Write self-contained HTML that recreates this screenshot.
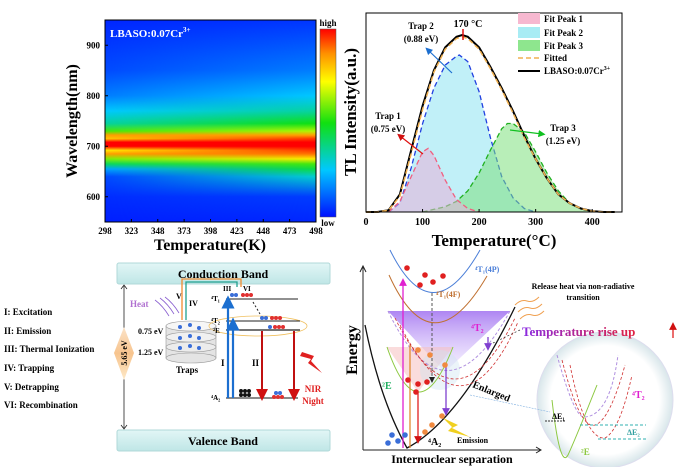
<!DOCTYPE html>
<html><head><meta charset="utf-8">
<style>
html,body{margin:0;padding:0;background:#fff;}
svg{display:block;font-family:"Liberation Serif",serif;font-weight:bold;}
</style></head>
<body>
<svg id="fig" width="685" height="467" viewBox="0 0 685 467" xmlns="http://www.w3.org/2000/svg">
<defs>
  <linearGradient id="cbar" x1="0" y1="1" x2="0" y2="0">
    <stop offset="0" stop-color="#0010ff"/><stop offset="0.25" stop-color="#00c8ff"/>
    <stop offset="0.5" stop-color="#10e010"/><stop offset="0.72" stop-color="#ffff00"/>
    <stop offset="0.87" stop-color="#ff9000"/><stop offset="1" stop-color="#ff0000"/>
  </linearGradient>
  <linearGradient id="hmL" x1="0" y1="0" x2="0" y2="1"></linearGradient>
  <linearGradient id="hmR" x1="0" y1="0" x2="0" y2="1"></linearGradient>
  <linearGradient id="fadeH" x1="0" y1="0" x2="1" y2="0"><stop offset="0" stop-color="#fff" stop-opacity="0"/><stop offset="1" stop-color="#fff" stop-opacity="1"/></linearGradient>
  <mask id="hmMask"><rect x="105" y="20" width="211" height="202" fill="url(#fadeH)"/></mask>
  <linearGradient id="band" x1="0" y1="0" x2="0" y2="1"><stop offset="0" stop-color="#e2f6f6"/><stop offset="1" stop-color="#bfe6e6"/></linearGradient>
  <linearGradient id="diam" x1="0" y1="0" x2="0" y2="1"><stop offset="0" stop-color="#fbe3c8"/><stop offset="0.5" stop-color="#f7c48e"/><stop offset="1" stop-color="#fde9c8"/></linearGradient>
  <linearGradient id="tempTxt" x1="0" y1="0" x2="1" y2="0"><stop offset="0" stop-color="#8a2be2"/><stop offset="1" stop-color="#e02040"/></linearGradient>
  <linearGradient id="purp" x1="0" y1="0" x2="0" y2="1"><stop offset="0" stop-color="#a070f0" stop-opacity="0.85"/><stop offset="1" stop-color="#e8dcff" stop-opacity="0.4"/></linearGradient>
  <radialGradient id="bubble" cx="0.5" cy="0.5" r="0.5"><stop offset="0.8" stop-color="#ffffff"/><stop offset="1" stop-color="#d8e6ea"/></radialGradient>
  <marker id="ab" markerWidth="6" markerHeight="6" refX="3" refY="3" orient="auto"><path d="M0,0L6,3L0,6z" fill="#1c6fd0"/></marker>
  <marker id="ar" markerWidth="6" markerHeight="6" refX="3" refY="3" orient="auto"><path d="M0,0L6,3L0,6z" fill="#d01010"/></marker>
  <marker id="ag" markerWidth="6" markerHeight="6" refX="3" refY="3" orient="auto"><path d="M0,0L6,3L0,6z" fill="#10c020"/></marker>
  <marker id="ak" markerWidth="6" markerHeight="6" refX="3" refY="3" orient="auto"><path d="M0,0L6,3L0,6z" fill="#222"/></marker>
  <marker id="am" markerWidth="6" markerHeight="6" refX="3" refY="3" orient="auto"><path d="M0,0L6,3L0,6z" fill="#e020d0"/></marker>
  <marker id="av" markerWidth="6" markerHeight="6" refX="3" refY="3" orient="auto"><path d="M0,0L6,3L0,6z" fill="#8040d0"/></marker>
</defs>

<!-- ===== Heatmap panel ===== -->
<g id="heatmap">
  <rect x="105" y="20" width="211" height="202" fill="url(#hmL)"/>
  <rect x="105" y="20" width="211" height="202" fill="url(#hmR)" mask="url(#hmMask)"/>
  <rect x="105" y="20" width="211" height="202" fill="none" stroke="#000" stroke-width="1"/>
  <text x="110" y="37" fill="#fff" font-size="11">LBASO:0.07Cr<tspan font-size="7" dy="-5">3+</tspan></text>
  <rect x="320" y="29" width="16" height="188" fill="url(#cbar)" stroke="#555" stroke-width="0.5"/>
  <text x="328" y="26" font-size="9" text-anchor="middle">high</text>
  <text x="328" y="226" font-size="9" text-anchor="middle">low</text>
  <text transform="translate(77,121) rotate(-90)" font-size="16" text-anchor="middle">Wavelength(nm)</text>
  <text x="210" y="250" font-size="16" text-anchor="middle">Temperature(K)</text>
  <g id="hmTicks"></g>
</g>

<!-- ===== TL panel ===== -->
<g id="tl">
  <g id="tlMarks"></g>
  <rect x="366" y="13" width="256" height="199" fill="none" stroke="#000" stroke-width="1"/>
  <g id="tlTicks"></g>
  <text transform="translate(356,112) rotate(-90)" font-size="17" text-anchor="middle">TL Intensity(a.u.)</text>
  <text x="494" y="246" font-size="17" text-anchor="middle">Temperature(°C)</text>
  <text x="468" y="27" font-size="10" text-anchor="middle">170 °C</text>
  <line x1="463" y1="29" x2="463" y2="40" stroke="#e01010" stroke-width="1.5"/>
  <text x="421" y="29" font-size="9" text-anchor="middle">Trap 2</text>
  <text x="421" y="42" font-size="9" text-anchor="middle">(0.88 eV)</text>
  <line x1="452" y1="73" x2="428" y2="50" stroke="#1c6fd0" stroke-width="1.2" marker-end="url(#ab)"/>
  <text x="388" y="119" font-size="9" text-anchor="middle">Trap 1</text>
  <text x="388" y="132" font-size="9" text-anchor="middle">(0.75 eV)</text>
  <line x1="423" y1="154" x2="400" y2="136" stroke="#e01010" stroke-width="1.2" marker-end="url(#ar)"/>
  <text x="563" y="131" font-size="9" text-anchor="middle">Trap 3</text>
  <text x="563" y="144" font-size="9" text-anchor="middle">(1.25 eV)</text>
  <line x1="510" y1="130" x2="542" y2="134" stroke="#10c020" stroke-width="1.2" marker-end="url(#ag)"/>
  <g>
    <rect x="518" y="13" width="22" height="11" fill="#f7b8d0"/>
    <text x="544" y="22" font-size="9">Fit Peak 1</text>
    <rect x="518" y="27" width="22" height="11" fill="#a8ecf4"/>
    <text x="544" y="36" font-size="9">Fit Peak 2</text>
    <rect x="518" y="40" width="22" height="11" fill="#8ee68e"/>
    <text x="544" y="49" font-size="9">Fit Peak 3</text>
    <line x1="518" y1="58" x2="540" y2="58" stroke="#f0b050" stroke-width="1.5" stroke-dasharray="5,3"/>
    <text x="544" y="61" font-size="9">Fitted</text>
    <line x1="518" y1="71" x2="540" y2="71" stroke="#000" stroke-width="2"/>
    <text x="544" y="74" font-size="9">LBASO:0.07Cr<tspan font-size="6" dy="-4">3+</tspan></text>
  </g>
</g>

<!-- ===== Bottom-left mechanism ===== -->
<g>
  <rect x="117" y="263" width="213" height="21" rx="2" fill="url(#band)" stroke="#b0d8d8"/>
  <text x="223" y="278" font-size="12" text-anchor="middle">Conduction Band</text>
  <rect x="117" y="430" width="213" height="21" rx="2" fill="url(#band)" stroke="#b0d8d8"/>
  <text x="223" y="445" font-size="12" text-anchor="middle">Valence Band</text>
  <g font-size="9">
    <text x="4" y="315">I: Excitation</text>
    <text x="4" y="334">II: Emission</text>
    <text x="4" y="352">III: Thermal Ionization</text>
    <text x="4" y="371">IV: Trapping</text>
    <text x="4" y="390">V: Detrapping</text>
    <text x="4" y="408">VI: Recombination</text>
  </g>
  <line x1="124" y1="286" x2="124" y2="428" stroke="#222" stroke-width="0.8"/>
  <path d="M121,289 L124,285 L127,289 M121,425 L124,429 L127,425" stroke="#222" fill="none" stroke-width="0.8"/>
  <path d="M124,327 L134,353 L124,380 L114,353 Z" fill="url(#diam)"/>
  <text transform="translate(127,353) rotate(-90)" font-size="8" text-anchor="middle">5.65 eV</text>
  <text x="130" y="307" font-size="9" fill="#b070d0">Heat</text>
  <path d="M155,300 q8,6 14,16 M160,298 q8,6 14,16 M165,297 q8,6 14,16" stroke="#8a60d0" fill="none" stroke-width="0.8"/>
  <text x="176" y="299" font-size="8">V</text>
  <text x="189" y="306" font-size="8">IV</text>
  <path d="M182,320 V279 H241 V287" stroke="#f08a30" stroke-width="1.3" fill="none"/>
  <path d="M186,320 V282 H237 V287" stroke="#20a090" stroke-width="1.3" fill="none"/>
  <g>
    <rect x="166" y="326" width="50" height="32" fill="#e4e4e4" stroke="#999" stroke-width="0.6"/>
    <ellipse cx="191" cy="358" rx="25" ry="5" fill="#e4e4e4" stroke="#999" stroke-width="0.6"/>
    <ellipse cx="191" cy="347" rx="25" ry="5" fill="#ececec" stroke="#999" stroke-width="0.6"/>
    <ellipse cx="191" cy="337" rx="25" ry="5" fill="#f0f0f0" stroke="#999" stroke-width="0.6"/>
    <ellipse cx="191" cy="326" rx="25" ry="5" fill="#f6f6f6" stroke="#999" stroke-width="0.6"/>
    <g fill="#3a6ed8"><circle cx="180" cy="327" r="2"/><circle cx="190" cy="325" r="2"/><circle cx="199" cy="328" r="2"/><circle cx="180" cy="338" r="2"/><circle cx="190" cy="336" r="2"/><circle cx="199" cy="338" r="2"/><circle cx="180" cy="348" r="2"/><circle cx="190" cy="346" r="2"/><circle cx="199" cy="348" r="2"/></g>
  </g>
  <text x="187" y="373" font-size="9" text-anchor="middle">Traps</text>
  <text x="138" y="334" font-size="8">0.75 eV</text>
  <text x="138" y="355" font-size="8">1.25 eV</text>
  <text x="223" y="291" font-size="7">III</text>
  <text x="243" y="291" font-size="7">VI</text>
  <line x1="226" y1="299" x2="298" y2="299" stroke="#222"/>
  <text x="211" y="301" font-size="7">⁴T₁</text>
  <ellipse cx="258" cy="326" rx="49" ry="10" fill="none" stroke="#f0c060" stroke-width="0.8"/>
  <line x1="226" y1="321" x2="300" y2="321" stroke="#222"/>
  <text x="211" y="323" font-size="7">⁴T₂</text>
  <line x1="226" y1="330" x2="300" y2="330" stroke="#222" stroke-width="1.3"/>
  <text x="213" y="333" font-size="7">²E</text>
  <line x1="226" y1="398" x2="298" y2="398" stroke="#444" stroke-width="1.3"/>
  <text x="211" y="400" font-size="7">⁴A₂</text>
  <line x1="253" y1="302" x2="260" y2="314" stroke="#222" stroke-dasharray="2,2"/>
  <line x1="228" y1="398" x2="228" y2="302" stroke="#1c6fd0" stroke-width="2.2" marker-end="url(#ab)"/>
  <line x1="233" y1="398" x2="233" y2="324" stroke="#1c6fd0" stroke-width="2.2" marker-end="url(#ab)"/>
  <line x1="262" y1="331" x2="262" y2="395" stroke="#c01010" stroke-width="2" marker-end="url(#ar)"/>
  <line x1="294" y1="331" x2="294" y2="395" stroke="#c01010" stroke-width="2" marker-end="url(#ar)"/>
  <text x="221" y="366" font-size="9">I</text>
  <text x="252" y="366" font-size="9">II</text>
  <g fill="#3a6ed8"><circle cx="232" cy="295" r="2"/><circle cx="236" cy="295" r="2"/><circle cx="262" cy="318" r="2"/><circle cx="266" cy="318" r="2"/><circle cx="270" cy="327" r="2"/><circle cx="276" cy="393" r="2"/><circle cx="280" cy="393" r="2"/></g>
  <g fill="#e03030"><circle cx="243" cy="295" r="2"/><circle cx="247" cy="295" r="2"/><circle cx="251" cy="295" r="2"/><circle cx="272" cy="318" r="2"/><circle cx="276" cy="318" r="2"/><circle cx="280" cy="318" r="2"/><circle cx="275" cy="327" r="2"/><circle cx="279" cy="327" r="2"/><circle cx="283" cy="327" r="2"/><circle cx="274" cy="397" r="2"/><circle cx="278" cy="397" r="2"/><circle cx="282" cy="397" r="2"/></g>
  <g fill="#111"><circle cx="241" cy="391" r="2"/><circle cx="245" cy="391" r="2"/><circle cx="249" cy="391" r="2"/><circle cx="241" cy="395" r="2"/><circle cx="245" cy="395" r="2"/><circle cx="249" cy="395" r="2"/></g>
  <path d="M302,352 L314,356 L311,361 L322,373 L308,363 L311,359 L300,356 Z" fill="#e02020"/>
  <text x="313" y="392" font-size="9" fill="#e02020" text-anchor="middle">NIR</text>
  <text x="313" y="404" font-size="9" fill="#e02020" text-anchor="middle">Night</text>
</g>

<!-- ===== Bottom-right configurational coordinate diagram ===== -->
<g>
  <circle cx="605" cy="400" r="68" fill="url(#bubble)" stroke="#dde"/>
  <path d="M388,311 L510,311 L445,372 Z" fill="url(#purp)"/>
  <path d="M387,347 L453,347 L418,392 Z" fill="#f6c0c0" opacity="0.55"/>
  <circle cx="440" cy="370" r="20" fill="#cde4f0" opacity="0.4"/>
  <line x1="363" y1="450" x2="540" y2="450" stroke="#222"/>
  <path d="M536,447 L541,450 L536,453" fill="none" stroke="#222"/>
  <line x1="363" y1="450" x2="363" y2="267" stroke="#222"/>
  <path d="M360,272 L363,266 L366,272" fill="none" stroke="#222"/>
  <text transform="translate(357,350) rotate(-90)" font-size="16" text-anchor="middle">Energy</text>
  <text x="452" y="463" font-size="12" text-anchor="middle">Internuclear separation</text>
  <path d="M365,325 Q380,400 407,448 Q460,420 515,307" fill="none" stroke="#111" stroke-width="1.3"/>
  <path d="M390,250 Q432,335 480,250" fill="none" stroke="#4a7ed8" stroke-width="1"/>
  <path d="M389,275 Q432,370 487,276" fill="none" stroke="#c07030" stroke-width="1"/>
  <path d="M388,311 Q445,430 510,311" fill="none" stroke="#b090e0" stroke-dasharray="3,2"/>
  <path d="M395,318 Q455,440 515,318 M400,325 Q462,448 518,322" fill="none" stroke="#d03030" stroke-dasharray="3,2" stroke-width="0.8"/>
  <path d="M387,347 Q418,437 453,347" fill="none" stroke="#8cc840" stroke-width="1"/>
  <text x="475" y="272" font-size="8" fill="#4a7ed8">⁴T₁(4P)</text>
  <text x="436" y="297" font-size="8" fill="#c07030">⁴T₁(4F)</text>
  <text x="471" y="331" font-size="10" fill="#e020d0">⁴T₂</text>
  <text x="382" y="389" font-size="10" fill="#20b060">²E</text>
  <text x="428" y="445" font-size="10">⁴A₂</text>
  <text x="457" y="443" font-size="8">Emission</text>
  <path d="M443,418 L458,425 L452,428 L470,437 L448,431 L452,427 Z" fill="#f0d020"/>
  <line x1="403" y1="448" x2="403" y2="282" stroke="#e020d0" stroke-width="1.3" marker-end="url(#am)"/>
  <line x1="410" y1="448" x2="410" y2="345" stroke="#e08a30" stroke-width="1.3"/>
  <line x1="418" y1="392" x2="418" y2="440" stroke="#e02020" stroke-width="1.3" marker-end="url(#ar)"/>
  <line x1="432" y1="293" x2="432" y2="380" stroke="#555" stroke-dasharray="3,2" marker-end="url(#ak)"/>
  <line x1="446" y1="365" x2="446" y2="412" stroke="#8040d0" stroke-width="1.3" marker-end="url(#av)"/>
  <line x1="488" y1="337" x2="488" y2="347" stroke="#8040d0" stroke-width="1.3" marker-end="url(#av)"/>
  <g fill="#e02020"><circle cx="407" cy="268" r="2.8"/><circle cx="425" cy="275" r="2.8"/><circle cx="433" cy="282" r="2.8"/><circle cx="443" cy="276" r="2.8"/><circle cx="420" cy="285" r="2.8"/><circle cx="408" cy="380" r="2.8"/><circle cx="418" cy="384" r="2.8"/><circle cx="427" cy="382" r="2.8"/><circle cx="416" cy="392" r="2.8"/></g>
  <g fill="#f08a40"><circle cx="418" cy="350" r="2.8"/><circle cx="430" cy="355" r="2.8"/><circle cx="445" cy="365" r="2.8"/><circle cx="442" cy="416" r="2.8"/><circle cx="432" cy="425" r="2.8"/><circle cx="425" cy="432" r="2.8"/></g>
  <g fill="#3a6ed8"><circle cx="392" cy="435" r="2.8"/><circle cx="398" cy="441" r="2.8"/><circle cx="388" cy="443" r="2.8"/><circle cx="405" cy="435" r="2.8"/></g>
  <text x="583" y="289" font-size="8" text-anchor="middle">Release heat via non-radiative</text>
  <text x="583" y="300" font-size="8" text-anchor="middle">transition</text>
  <path d="M515,305 q6,-6 12,-4 q6,2 12,-4 M518,312 q6,-6 12,-4 q6,2 12,-4 M520,319 q6,-6 12,-4 q6,2 12,-4" stroke="#f0a050" fill="none" stroke-width="1"/>
  <text x="522" y="336" font-size="13" fill="url(#tempTxt)">Temperature rise up</text>
  <line x1="673" y1="338" x2="673" y2="326" stroke="#e02020" stroke-width="1.3" marker-end="url(#ar)"/>
  <line x1="520" y1="330" x2="493" y2="343" stroke="#333" stroke-dasharray="2,2" stroke-width="0.7"/>
  <text transform="translate(472,387) rotate(22)" font-size="10">Enlarged</text>
  <line x1="470" y1="395" x2="550" y2="412" stroke="#80b0e0" stroke-width="0.6" stroke-dasharray="2,1"/>
  <g>
    <path d="M557,355 Q575,420 585,417 Q610,415 618,355" fill="none" stroke="#b090e0" stroke-dasharray="3,2"/>
    <path d="M562,360 Q580,430 595,425 Q610,420 625,365 M570,365 Q585,440 605,438 Q620,430 632,375" fill="none" stroke="#d03030" stroke-dasharray="3,2" stroke-width="0.8"/>
    <path d="M552,400 Q560,470 568,455 Q575,440 597,385" fill="none" stroke="#8cc840"/>
    <line x1="545" y1="421" x2="566" y2="421" stroke="#333" stroke-dasharray="2,1"/>
    <line x1="580" y1="425" x2="646" y2="425" stroke="#30b0b0" stroke-dasharray="3,2"/>
    <line x1="598" y1="439" x2="646" y2="439" stroke="#30b0b0" stroke-dasharray="3,2"/>
    <text x="552" y="419" font-size="8">ΔE₁</text>
    <text x="627" y="435" font-size="8" fill="#30a0a0">ΔE₂</text>
    <text x="632" y="398" font-size="10" fill="#e020d0">⁴T₂</text>
    <text x="581" y="455" font-size="9" fill="#8cc840">²E</text>
  </g>
</g>
</svg>

<script>
// ---- Heatmap data ----
const hmWavelengths = [550,600,640,655,665,675,685,692,700,708,715,722,730,745,770,800,850,950];
const hmIntensityAt298K = [0.02,0.04,0.08,0.2,0.42,0.6,0.85,0.75,1,1,0.8,0.85,0.55,0.35,0.25,0.15,0.08,0.03];
const hmIntensityAt498K = [0.03,0.06,0.3,0.45,0.55,0.75,0.9,0.95,1,1,0.95,0.85,0.65,0.5,0.35,0.25,0.15,0.05];
const hmXTicks = [298,323,348,373,398,423,448,473,498];
const hmYTicks = [600,700,800,900];

// ---- TL data ----
const tlTemps = [0,20,40,60,80,100,120,140,160,170,180,200,220,240,260,280,300,320,340,360,380,400,420,440];
const tlMeasured = [0,0,0.01,0.1,0.35,0.6,0.8,0.93,0.99,1,0.99,0.93,0.82,0.7,0.57,0.43,0.3,0.19,0.1,0.05,0.02,0.005,0,0];
const tlFitted = [0,0,0.01,0.09,0.33,0.58,0.79,0.92,0.98,0.99,0.98,0.92,0.81,0.69,0.56,0.42,0.3,0.19,0.1,0.05,0.02,0.005,0,0];
const peak1Temps = [40,60,80,100,110,120,140,160,180,200];
const peak1Values = [0,0.06,0.2,0.34,0.36,0.32,0.18,0.07,0.02,0];
const peak2Temps = [40,60,80,100,120,140,160,165,180,200,220,240,260,280,300];
const peak2Values = [0,0.05,0.25,0.5,0.7,0.83,0.88,0.887,0.85,0.68,0.42,0.2,0.08,0.02,0];
const peak3Temps = [100,140,160,180,200,220,240,250,260,280,300,320,340,360,380,400];
const peak3Values = [0,0.03,0.06,0.12,0.22,0.35,0.47,0.5,0.5,0.45,0.34,0.22,0.12,0.05,0.02,0];
const tlXTicks = [0,100,200,300,400];

const NS = "http://www.w3.org/2000/svg";
function mk(tag, attrs, parent){ const e=document.createElementNS(NS,tag); for(const k in attrs) e.setAttribute(k,attrs[k]); parent.appendChild(e); return e; }

const cmap = [[0,[0,16,255]],[0.25,[0,200,255]],[0.5,[16,224,16]],[0.72,[255,255,0]],[0.87,[255,144,0]],[1,[255,0,0]]];
function color(v){ v=Math.max(0,Math.min(1,v)); for(let i=1;i<cmap.length;i++){ if(v<=cmap[i][0]){ const a=cmap[i-1],b=cmap[i]; const t=(v-a[0])/(b[0]-a[0]); const c=a[1].map((x,j)=>Math.round(x+(b[1][j]-x)*t)); return 'rgb('+c.join(',')+')'; } } return "rgb(255,0,0)"; }

const hmX = t => 105 + (t-298)/(498-298)*211;
const hmY = w => 222 - (w-550)/(950-550)*202;
function fillGrad(id, vals){
  const g=document.getElementById(id);
  const idx = hmWavelengths.map((w,i)=>i).sort((a,b)=>hmWavelengths[b]-hmWavelengths[a]);
  idx.forEach(i=>{ mk('stop',{offset:((hmY(hmWavelengths[i])-20)/202).toFixed(4),'stop-color':color(vals[i])},g); });
}
fillGrad('hmL', hmIntensityAt298K);
fillGrad('hmR', hmIntensityAt498K);
const hmT = document.getElementById('hmTicks');
hmXTicks.forEach(t=>{
  const x=hmX(t);
  const l=mk('line',{x1:x,y1:222,x2:x,y2:219,stroke:'#000'},hmT);
  
  
  const tx=mk('text',{x:x,y:234,'font-size':9,'text-anchor':'middle'},hmT); tx.textContent=t;
  
  
});
hmYTicks.forEach(w=>{
  const y=hmY(w);
  const l=mk('line',{x1:105,y1:y,x2:108,y2:y,stroke:'#000'},hmT);
  
  
  const tx=mk('text',{x:100,y:y+3,'font-size':9,'text-anchor':'end'},hmT); tx.textContent=w;
  
  
});

const tlX = t => 366 + t*0.5655;
const tlY = v => 212 - v*177;
const tlM = document.getElementById('tlMarks');
function pathOf(ts, vs){ return ts.map((t,i)=>(i?'L':'M')+tlX(t).toFixed(1)+','+tlY(vs[i]).toFixed(1)).join(''); }
function area(ts, vs, fill, stroke, name){
  const d = pathOf(ts,vs);
  const a = mk('path',{d:d+'L'+tlX(ts[ts.length-1])+',212L'+tlX(ts[0])+',212Z',fill:fill,opacity:0.55},tlM);
  
  
  const l = mk('path',{d:d,fill:'none',stroke:stroke,'stroke-width':1.3,'stroke-dasharray':'5,3'},tlM);
  
  
}
area(peak2Temps, peak2Values, '#8ee4f2', '#2040e0', 'fit-peak-2');
area(peak3Temps, peak3Values, '#7ee07e', '#20b020', 'fit-peak-3');
area(peak1Temps, peak1Values, '#e8b0d8', '#f06080', 'fit-peak-1');
const meas = mk('path',{d:pathOf(tlTemps,tlMeasured),fill:'none',stroke:'#000','stroke-width':2},tlM);


const fit = mk('path',{d:pathOf(tlTemps,tlFitted),fill:'none',stroke:'#f0b050','stroke-width':1.5,'stroke-dasharray':'5,3'},tlM);


const tlT = document.getElementById('tlTicks');
tlXTicks.forEach(t=>{
  const x=tlX(t);
  const l=mk('line',{x1:x,y1:212,x2:x,y2:209,stroke:'#000'},tlT);
  
  
  const tx=mk('text',{x:x,y:225,'font-size':10,'text-anchor':'middle'},tlT); tx.textContent=t;
  
  
});
</script>
</body></html>
